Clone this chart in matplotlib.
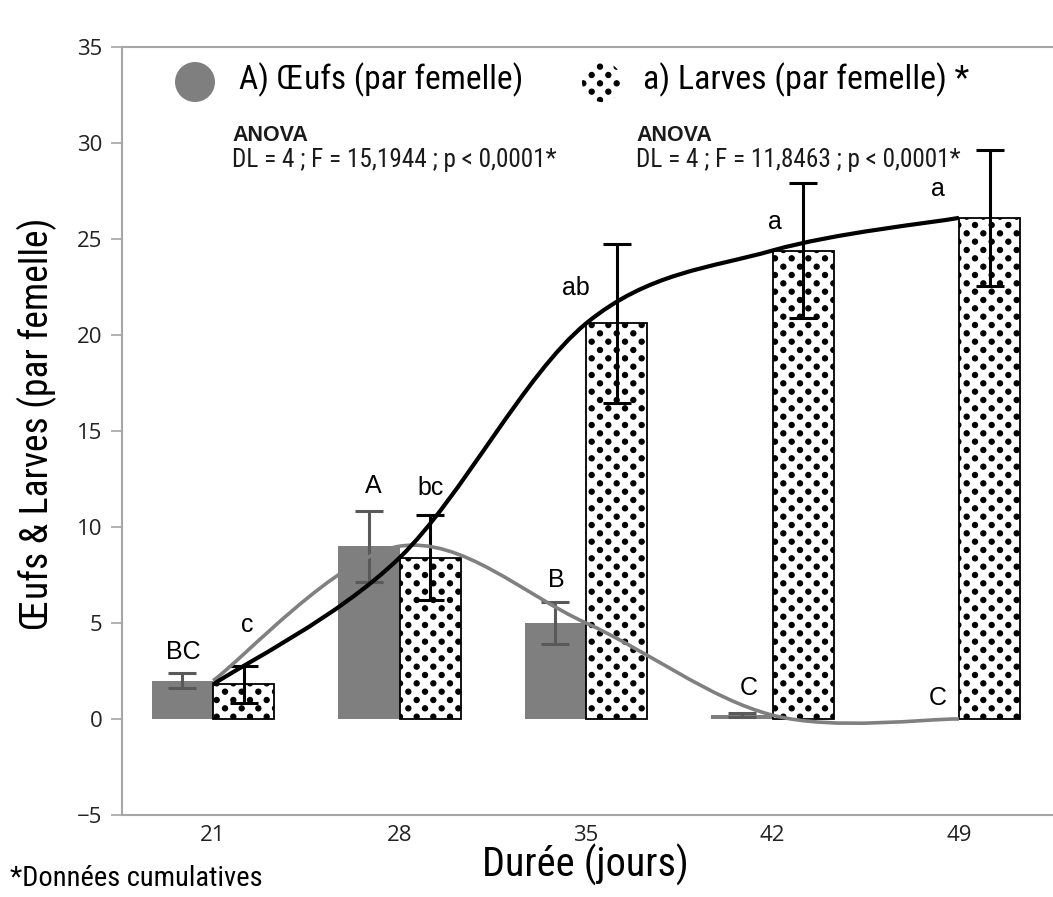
import numpy as np
import matplotlib
matplotlib.use('Agg')
import matplotlib.pyplot as plt
import matplotlib.hatch as mhatch
from matplotlib.path import Path
from matplotlib.patches import PathPatch, Circle
from matplotlib import font_manager

# ---------------- data ----------------
days = [21, 28, 35, 42, 49]
eggs = [2.0, 9.0, 5.0, 0.2, 0.0]
eggs_err = [0.4, 1.85, 1.1, 0.1, np.nan]
larvae = [1.8, 8.4, 20.6, 24.4, 26.1]
larvae_err = [0.95, 2.2, 4.15, 3.5, 3.55]
egg_letters = ['BC', 'A', 'B', 'C', 'C']
larvae_letters = ['c', 'bc', 'ab', 'a', 'a']
yticks = [-5, 0, 5, 10, 15, 20, 25, 30, 35]
legend_labels = ['A) Œufs (par femelle)', 'a) Larves (par femelle) *']
anova_eggs = 'DL = 4 ; F = 15,1944 ; p < 0,0001*'
anova_larvae = 'DL = 4 ; F = 11,8463 ; p < 0,0001*'

# letter label positions (day, y)
egg_letter_pos = [(19.87, 3.5), (27.0, 12.15), (33.9, 7.25), (41.1, 1.6), (48.2, 1.1)]
larvae_letter_pos = [(22.28, 4.9), (29.15, 12.05), (34.6, 22.45), (42.1, 25.9), (48.2, 27.6)]

# ---------------- fonts ----------------
_names = {f.name for f in font_manager.fontManager.ttflist}
_dejavu_cond = any(f.name == 'DejaVu Sans' and 'Condensed' in f.fname
                   for f in font_manager.fontManager.ttflist)
if 'Liberation Sans Narrow' in _names:
    NARROW, NSTRETCH, NSCALE = 'Liberation Sans Narrow', 'normal', 1.0
elif 'Roboto Condensed' in _names:
    NARROW, NSTRETCH, NSCALE = 'Roboto Condensed', 'normal', 1.0
elif _dejavu_cond:
    NARROW, NSTRETCH, NSCALE = 'DejaVu Sans', 'condensed', 0.92
else:
    NARROW, NSTRETCH, NSCALE = 'Liberation Sans', 'normal', 0.9
ARIAL = 'Liberation Sans' if 'Liberation Sans' in _names else 'DejaVu Sans'
TICKF = 'Open Sans' if 'Open Sans' in _names else 'DejaVu Sans'

def nfs(s):
    return s * NSCALE

# ---------------- custom dot hatch ----------------
class DotLattice(mhatch.HatchPatternBase):
    def __init__(self, hatch, density):
        circ = Path.unit_circle()
        self.sv = circ.vertices
        self.sc = circ.codes
        n = 6
        pts = []
        if hatch.count('.') > 0:
            for r in range(2 * n + 1):
                y = r / (2 * n)
                if r % 2 == 0:
                    xs = np.linspace(0, 1, n + 1)
                else:
                    xs = np.linspace(0.5 / n, 1 - 0.5 / n, n)
                for x in xs:
                    pts.append((x, y))
        self.pts = pts
        self.num_vertices = len(pts) * len(self.sv)

    def set_vertices_and_codes(self, vertices, codes):
        nv = len(self.sv)
        r = 0.026
        cur = 0
        for (x, y) in self.pts:
            vertices[cur:cur + nv] = self.sv * r + np.array([x, y])
            codes[cur:cur + nv] = self.sc
            cur += nv

mhatch._hatch_types = [t for t in mhatch._hatch_types
                       if t is not mhatch.SmallFilledCircles] + [DotLattice]
plt.rcParams['hatch.linewidth'] = 0.8
plt.rcParams['hatch.color'] = 'black'

# ---------------- smooth line ----------------
def smooth_path(x, y):
    pts = np.column_stack([np.asarray(x, float), np.asarray(y, float)])
    n = len(pts)
    verts = [pts[0]]
    codes = [Path.MOVETO]
    for i in range(n - 1):
        p0 = pts[i - 1] if i > 0 else pts[i]
        p1 = pts[i]
        p2 = pts[i + 1]
        p3 = pts[i + 2] if i + 2 < n else pts[i + 1]
        verts += [p1 + (p2 - p0) / 6.0, p2 - (p3 - p1) / 6.0, p2]
        codes += [Path.CURVE4] * 3
    return Path(verts, codes)

# ---------------- figure ----------------
W, H = 1053, 897
fig = plt.figure(figsize=(W / 100, H / 100), dpi=100)
ax = fig.add_axes([122 / W, 82 / H, 1 - 122 / W, (815 - 47) / H])

d = np.array(days, float)
bw = 2.3
egg_x = d - bw / 2
lar_x = d + bw / 2

ax.bar(egg_x, eggs, width=bw, color='#7f7f7f', edgecolor='none', zorder=2)
ax.bar(lar_x, larvae, width=bw, color='white', edgecolor='black',
       linewidth=1.3, hatch='.', zorder=2)

ax.errorbar(egg_x, eggs, yerr=eggs_err, fmt='none', ecolor='#595959',
            elinewidth=2.2, capsize=10, capthick=2.2, zorder=3)
ax.errorbar(lar_x, larvae, yerr=larvae_err, fmt='none', ecolor='black',
            elinewidth=2.2, capsize=10, capthick=2.2, zorder=3)

ax.add_patch(PathPatch(smooth_path(days, eggs), facecolor='none',
                       edgecolor='#808080', linewidth=2.6, zorder=4,
                       capstyle='butt'))
ax.add_patch(PathPatch(smooth_path(days, larvae), facecolor='none',
                       edgecolor='black', linewidth=3.0, zorder=5,
                       capstyle='butt'))

for lab, (x, y) in zip(egg_letters, egg_letter_pos):
    ax.text(x, y, lab, ha='center', va='center', fontsize=18,
            family=ARIAL, color='black', zorder=6)
for lab, (x, y) in zip(larvae_letters, larvae_letter_pos):
    ax.text(x, y, lab, ha='center', va='center', fontsize=18,
            family=ARIAL, color='black', zorder=6)

ax.set_xlim(17.58, 52.53)
ax.set_ylim(-5, 35)
ax.set_yticks(yticks)
ax.set_xticks(days)
ax.set_xticklabels([str(v) for v in days])
ax.tick_params(axis='y', length=8, width=1.2, color='#a6a6a6', pad=6,
               labelsize=16, labelcolor='#222222')
ax.tick_params(axis='x', length=0, pad=7, labelsize=16, labelcolor='#222222')
for lbl in ax.get_xticklabels() + ax.get_yticklabels():
    lbl.set_family(TICKF)
for s in ['left', 'bottom', 'top']:
    ax.spines[s].set_color('#a6a6a6')
    ax.spines[s].set_linewidth(1.5)
ax.spines['right'].set_visible(False)

ax.set_ylabel('Œufs & Larves (par femelle)', fontsize=nfs(27), family=NARROW,
              fontstretch=NSTRETCH)
ax.yaxis.set_label_coords(-0.07, 0.51)
fig.text(585 / W, 1 - 865 / H, 'Durée (jours)', ha='center', va='center',
         fontsize=nfs(29), family=NARROW, fontstretch=NSTRETCH)
fig.text(10 / W, 1 - 878 / H, '*Données cumulatives', ha='left', va='center',
         fontsize=nfs(20.5), family=NARROW, fontstretch=NSTRETCH)

# legend
c1 = Circle((1.95, (H - 82) / 100), 0.20, transform=fig.dpi_scale_trans,
            facecolor='#7f7f7f', edgecolor='none')
c2 = Circle((6.02, (H - 82) / 100), 0.20, transform=fig.dpi_scale_trans,
            facecolor='white', edgecolor='black', linewidth=0, hatch='.')
fig.add_artist(c1)
fig.add_artist(c2)
fig.text(239 / W, 1 - 80 / H, legend_labels[0], ha='left', va='center',
         fontsize=nfs(24), family=NARROW, fontstretch=NSTRETCH)
fig.text(643 / W, 1 - 80 / H, legend_labels[1], ha='left', va='center',
         fontsize=nfs(24.5), family=NARROW, fontstretch=NSTRETCH)

# ANOVA
for xp, txt in [(232, anova_eggs), (636, anova_larvae)]:
    fig.text(xp / W, 1 - 141 / H, 'ANOVA', ha='left', va='baseline',
             fontsize=15.5, family=ARIAL, fontweight='bold', color='#1a1a1a')
    fig.text(xp / W, 1 - 167 / H, txt, ha='left', va='baseline',
             fontsize=nfs(18.2), family=NARROW, fontstretch=NSTRETCH,
             color='#1a1a1a')

fig.savefig('out.png', dpi=100)
